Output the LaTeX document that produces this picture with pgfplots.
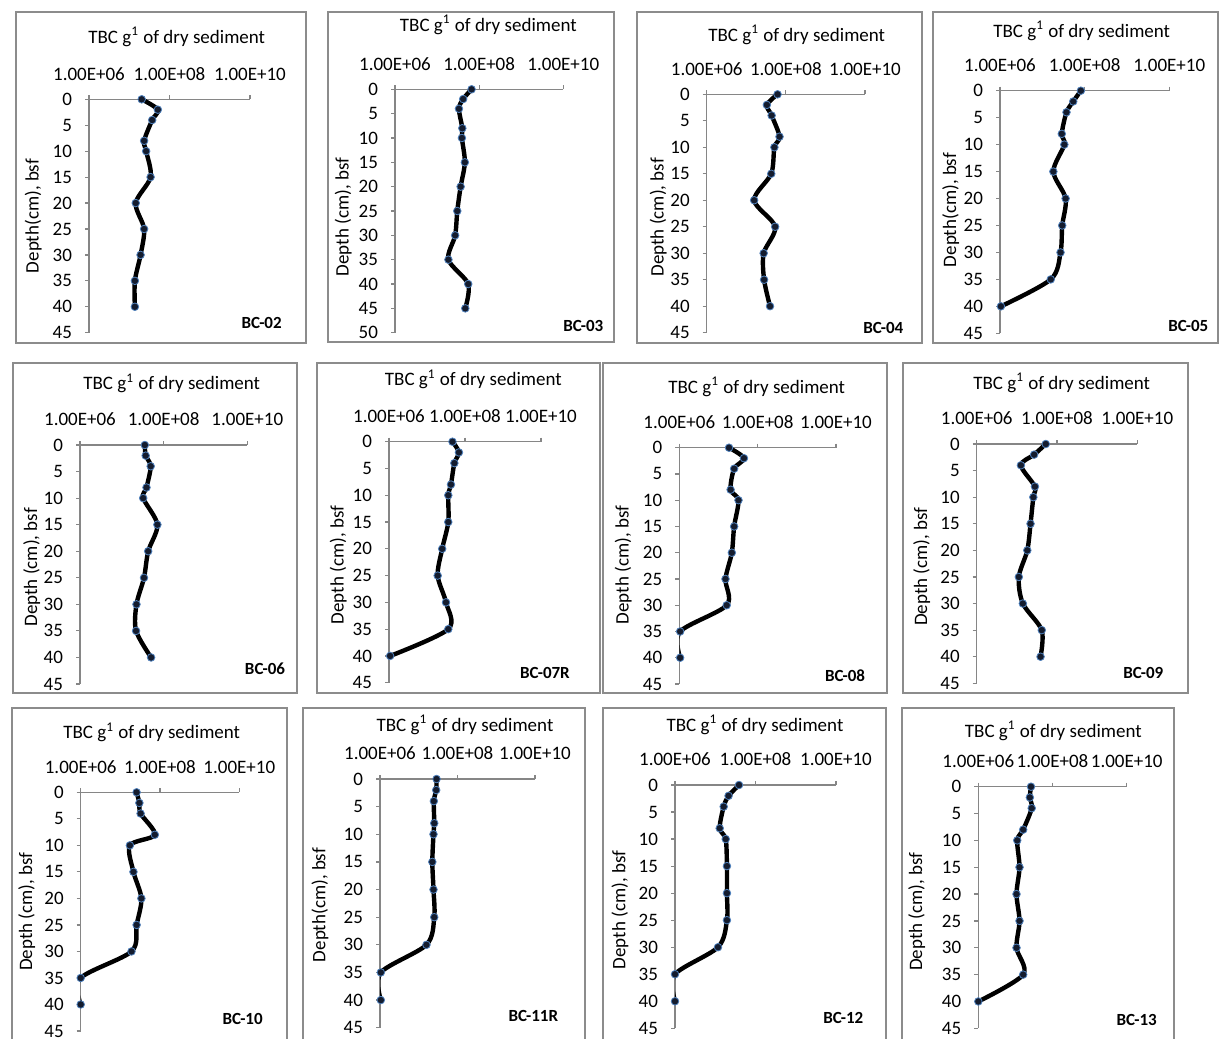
\documentclass[border=0pt]{standalone}
\usepackage{fontspec}
\setmainfont{Carlito}
\usepackage{pgfplots}
\pgfplotsset{compat=1.18}

\definecolor{framegray}{HTML}{8C8C8C}
\definecolor{axisgray}{HTML}{868686}
\definecolor{markfill}{HTML}{141C2E}
\definecolor{markedge}{HTML}{4F81BD}

\newcommand{\lab}{\fontsize{9.5}{11}\selectfont}

\pgfkeys{/pgf/number format/assume math mode=true}
\pgfplotsset{
  tbcline/.style={black, line width=2.2pt, smooth, tension=0.5,
    mark=*, mark size=1.9pt,
    mark options={fill=markfill, draw=markedge, line width=0.4pt}},
}

\begin{document}
\begin{tikzpicture}
\useasboundingbox (0,0) rectangle (609.5pt,-519pt);
\clip (0,0) rectangle (609.5pt,-519pt);

% frames
\begin{scope}[framegray, line width=0.6pt]
\draw (8pt,-6pt) rectangle (153pt,-171.5pt);
\draw (164pt,-6pt) rectangle (307pt,-171pt);
\draw (318.5pt,-6pt) rectangle (461pt,-171.5pt);
\draw (466.5pt,-6pt) rectangle (609pt,-171.5pt);
\draw (6.5pt,-181.5pt) rectangle (148.5pt,-346.5pt);
\draw (158.5pt,-181.5pt) rectangle (300pt,-346.5pt);
\draw (301.5pt,-181.5pt) rectangle (443.5pt,-346.5pt);
\draw (451.5pt,-181.5pt) rectangle (594pt,-346.5pt);
\draw (6pt,-354pt) rectangle (143.5pt,-525pt);
\draw (151.5pt,-354pt) rectangle (292.5pt,-525pt);
\draw (301.5pt,-354pt) rectangle (443pt,-525pt);
\draw (451pt,-354pt) rectangle (587pt,-525pt);
\end{scope}

% BC-02
\begin{axis}[xmode=log, xmin=1e6, xmax=1e10, xtick={1e6,1e8,1e10}, xticklabels={1.00E+06,1.00E+08,1.00E+10}, minor xtick={},
  y dir=reverse, ymin=0, ymax=45, ytick={0,5,...,45},
  axis x line=top, axis y line=left, axis line style={-, draw=axisgray, line width=0.6pt},
  tick style={draw=axisgray, line width=0.6pt}, tick align=outside, major tick length=2pt,
  ticklabel style={font=\lab}, xticklabel style={yshift=4pt}, yticklabel style={xshift=-3pt},
  clip mode=individual, scale only axis, anchor=north west,
  at={(44.5pt,-49.65pt)}, width=80.5pt, height=116.7pt]
\addplot[tbcline] coordinates {(2.04e7,0)(5.13e7,2)(3.72e7,4)(2.34e7,8)(2.63e7,10)(3.39e7,15)(1.45e7,20)(2.34e7,25)(1.91e7,30)(1.38e7,35)(1.38e7,40)};
\end{axis}

% BC-03
\begin{axis}[xmode=log, xmin=1e6, xmax=1e10, xtick={1e6,1e8,1e10}, xticklabels={1.00E+06,1.00E+08,1.00E+10}, minor xtick={},
  y dir=reverse, ymin=0, ymax=50, ytick={0,5,...,50},
  axis x line=top, axis y line=left, axis line style={-, draw=axisgray, line width=0.6pt},
  tick style={draw=axisgray, line width=0.6pt}, tick align=outside, major tick length=2pt,
  ticklabel style={font=\lab}, xticklabel style={yshift=4pt}, yticklabel style={xshift=-3pt},
  clip mode=individual, scale only axis, anchor=north west,
  at={(197.5pt,-44.65pt)}, width=84.15pt, height=121.7pt]
\addplot[tbcline] coordinates {(6.61e7,0)(4.17e7,2)(3.31e7,4)(3.98e7,8)(3.89e7,10)(4.57e7,15)(3.63e7,20)(3.02e7,25)(2.69e7,30)(1.86e7,35)(5.50e7,40)(4.68e7,45)};
\end{axis}

% BC-04
\begin{axis}[xmode=log, xmin=1e6, xmax=1e10, xtick={1e6,1e8,1e10}, xticklabels={1.00E+06,1.00E+08,1.00E+10}, minor xtick={},
  y dir=reverse, ymin=0, ymax=45, ytick={0,5,...,45},
  axis x line=top, axis y line=left, axis line style={-, draw=axisgray, line width=0.6pt},
  tick style={draw=axisgray, line width=0.6pt}, tick align=outside, major tick length=2pt,
  ticklabel style={font=\lab}, xticklabel style={yshift=4pt}, yticklabel style={xshift=-3pt},
  clip mode=individual, scale only axis, anchor=north west,
  at={(353.35pt,-47.15pt)}, width=79.15pt, height=119.2pt]
\addplot[tbcline] coordinates {(6.17e7,0)(3.31e7,2)(4.37e7,4)(6.92e7,8)(5.13e7,10)(4.27e7,15)(1.58e7,20)(5.37e7,25)(2.75e7,30)(2.82e7,35)(3.98e7,40)};
\end{axis}

% BC-05
\begin{axis}[xmode=log, xmin=1e6, xmax=1e10, xtick={1e6,1e8,1e10}, xticklabels={1.00E+06,1.00E+08,1.00E+10}, minor xtick={},
  y dir=reverse, ymin=0, ymax=45, ytick={0,5,...,45},
  axis x line=top, axis y line=left, axis line style={-, draw=axisgray, line width=0.6pt},
  tick style={draw=axisgray, line width=0.6pt}, tick align=outside, major tick length=2pt,
  ticklabel style={font=\lab}, xticklabel style={yshift=4pt}, yticklabel style={xshift=-3pt},
  clip mode=individual, scale only axis, anchor=north west,
  at={(500pt,-45.35pt)}, width=84.65pt, height=121.3pt]
\addplot[tbcline] coordinates {(8.13e7,0)(5.37e7,2)(3.72e7,4)(2.88e7,8)(3.31e7,10)(1.82e7,15)(3.55e7,20)(2.95e7,25)(2.69e7,30)(1.58e7,35)(1.05e6,40)};
\end{axis}

% BC-06
\begin{axis}[xmode=log, xmin=1e6, xmax=1e10, xtick={1e6,1e8,1e10}, xticklabels={1.00E+06,1.00E+08,1.00E+10}, minor xtick={},
  y dir=reverse, ymin=0, ymax=45, ytick={0,5,...,45},
  axis x line=top, axis y line=left, axis line style={-, draw=axisgray, line width=0.6pt},
  tick style={draw=axisgray, line width=0.6pt}, tick align=outside, major tick length=2pt,
  ticklabel style={font=\lab}, xticklabel style={yshift=4pt}, yticklabel style={xshift=-3pt},
  clip mode=individual, scale only axis, anchor=north west,
  at={(40pt,-222.5pt)}, width=83.65pt, height=119.5pt]
\addplot[tbcline] coordinates {(3.55e7,0)(3.72e7,2)(4.90e7,4)(3.89e7,8)(3.24e7,10)(7.08e7,15)(4.27e7,20)(3.39e7,25)(2.24e7,30)(2.19e7,35)(5.01e7,40)};
\end{axis}

% BC-07R
\begin{axis}[xmode=log, xmin=1e6, xmax=1e10, xtick={1e6,1e8,1e10}, xticklabels={1.00E+06,1.00E+08,1.00E+10}, minor xtick={},
  y dir=reverse, ymin=0, ymax=45, ytick={0,5,...,45},
  axis x line=top, axis y line=left, axis line style={-, draw=axisgray, line width=0.6pt},
  tick style={draw=axisgray, line width=0.6pt}, tick align=outside, major tick length=2pt,
  ticklabel style={font=\lab}, xticklabel style={yshift=4pt}, yticklabel style={xshift=-3pt},
  clip mode=individual, scale only axis, anchor=north west,
  at={(194.5pt,-220.85pt)}, width=76pt, height=120.5pt]
\addplot[tbcline] coordinates {(4.68e7,0)(6.92e7,2)(5.25e7,4)(4.27e7,8)(3.63e7,10)(3.63e7,15)(2.51e7,20)(1.91e7,25)(3.16e7,30)(3.63e7,35)(1.07e6,40)};
\end{axis}

% BC-08
\begin{axis}[xmode=log, xmin=1e6, xmax=1e10, xtick={1e6,1e8,1e10}, xticklabels={1.00E+06,1.00E+08,1.00E+10}, minor xtick={},
  y dir=reverse, ymin=0, ymax=45, ytick={0,5,...,45},
  axis x line=top, axis y line=left, axis line style={-, draw=axisgray, line width=0.6pt},
  tick style={draw=axisgray, line width=0.6pt}, tick align=outside, major tick length=2pt,
  ticklabel style={font=\lab}, xticklabel style={yshift=4pt}, yticklabel style={xshift=-3pt},
  clip mode=individual, scale only axis, anchor=north west,
  at={(339.65pt,-223.85pt)}, width=78.35pt, height=118.15pt]
\addplot[tbcline] coordinates {(1.86e7,0)(4.47e7,2)(2.51e7,4)(2.04e7,8)(3.24e7,10)(2.51e7,15)(2.19e7,20)(1.51e7,25)(1.62e7,30)(1.05e6,35)(1.05e6,40)};
\end{axis}

% BC-09
\begin{axis}[xmode=log, xmin=1e6, xmax=1e10, xtick={1e6,1e8,1e10}, xticklabels={1.00E+06,1.00E+08,1.00E+10}, minor xtick={},
  y dir=reverse, ymin=0, ymax=45, ytick={0,5,...,45},
  axis x line=top, axis y line=left, axis line style={-, draw=axisgray, line width=0.6pt},
  tick style={draw=axisgray, line width=0.6pt}, tick align=outside, major tick length=2pt,
  ticklabel style={font=\lab}, xticklabel style={yshift=4pt}, yticklabel style={xshift=-3pt},
  clip mode=individual, scale only axis, anchor=north west,
  at={(488.35pt,-222pt)}, width=80.3pt, height=119.65pt]
\addplot[tbcline] coordinates {(5.25e7,0)(2.69e7,2)(1.26e7,4)(2.82e7,8)(2.57e7,10)(2.19e7,15)(1.82e7,20)(1.12e7,25)(1.41e7,30)(4.17e7,35)(3.89e7,40)};
\end{axis}

% BC-10
\begin{axis}[xmode=log, xmin=1e6, xmax=1e10, xtick={1e6,1e8,1e10}, xticklabels={1.00E+06,1.00E+08,1.00E+10}, minor xtick={},
  y dir=reverse, ymin=0, ymax=45, ytick={0,5,...,45},
  axis x line=top, axis y line=left, axis line style={-, draw=axisgray, line width=0.6pt},
  tick style={draw=axisgray, line width=0.6pt}, tick align=outside, major tick length=2pt,
  ticklabel style={font=\lab}, xticklabel style={yshift=4pt}, yticklabel style={xshift=-3pt},
  clip mode=individual, scale only axis, anchor=north west,
  at={(40.35pt,-396.15pt)}, width=79.3pt, height=119.35pt]
\addplot[tbcline] coordinates {(2.57e7,0)(3.02e7,2)(3.24e7,4)(7.41e7,8)(1.74e7,10)(2.14e7,15)(3.39e7,20)(2.57e7,25)(1.91e7,30)(1.0e6,35)(1.0e6,40)};
\end{axis}

% BC-11R
\begin{axis}[xmode=log, xmin=1e6, xmax=1e10, xtick={1e6,1e8,1e10}, xticklabels={1.00E+06,1.00E+08,1.00E+10}, minor xtick={},
  y dir=reverse, ymin=0, ymax=45, ytick={0,5,...,45},
  axis x line=top, axis y line=left, axis line style={-, draw=axisgray, line width=0.6pt},
  tick style={draw=axisgray, line width=0.6pt}, tick align=outside, major tick length=2pt,
  ticklabel style={font=\lab}, xticklabel style={yshift=4pt}, yticklabel style={xshift=-3pt},
  clip mode=individual, scale only axis, anchor=north west,
  at={(190pt,-389.5pt)}, width=77.5pt, height=124.35pt]
\addplot[tbcline] coordinates {(2.88e7,0)(2.82e7,2)(2.45e7,4)(2.51e7,8)(2.40e7,10)(2.24e7,15)(2.40e7,20)(2.51e7,25)(1.58e7,30)(1.05e6,35)(1.05e6,40)};
\end{axis}

% BC-12
\begin{axis}[xmode=log, xmin=1e6, xmax=1e10, xtick={1e6,1e8,1e10}, xticklabels={1.00E+06,1.00E+08,1.00E+10}, minor xtick={},
  y dir=reverse, ymin=0, ymax=45, ytick={0,5,...,45},
  axis x line=top, axis y line=left, axis line style={-, draw=axisgray, line width=0.6pt},
  tick style={draw=axisgray, line width=0.6pt}, tick align=outside, major tick length=2pt,
  ticklabel style={font=\lab}, xticklabel style={yshift=4pt}, yticklabel style={xshift=-3pt},
  clip mode=individual, scale only axis, anchor=north west,
  at={(337.5pt,-392.5pt)}, width=80.5pt, height=121.65pt]
\addplot[tbcline] coordinates {(3.89e7,0)(2.14e7,2)(1.62e7,4)(1.29e7,8)(1.82e7,10)(1.95e7,15)(1.95e7,20)(1.95e7,25)(1.17e7,30)(1.0e6,35)(1.0e6,40)};
\end{axis}

% BC-13
\begin{axis}[xmode=log, xmin=1e6, xmax=1e10, xtick={1e6,1e8,1e10}, xticklabels={1.00E+06,1.00E+08,1.00E+10}, minor xtick={},
  y dir=reverse, ymin=0, ymax=45, ytick={0,5,...,45},
  axis x line=top, axis y line=left, axis line style={-, draw=axisgray, line width=0.6pt},
  tick style={draw=axisgray, line width=0.6pt}, tick align=outside, major tick length=2pt,
  ticklabel style={font=\lab}, xticklabel style={yshift=4pt}, yticklabel style={xshift=-3pt},
  clip mode=individual, scale only axis, anchor=north west,
  at={(489.15pt,-393.35pt)}, width=74.2pt, height=120.8pt]
\addplot[tbcline] coordinates {(2.63e7,0)(2.45e7,2)(2.75e7,4)(1.62e7,8)(1.12e7,10)(1.29e7,15)(1.07e7,20)(1.29e7,25)(1.07e7,30)(1.62e7,35)(1.0e6,40)};
\end{axis}

% titles
\begin{scope}[every node/.style={font=\lab}]
\node at (88.35pt,-18.35pt) {TBC g\textsuperscript{1} of dry sediment};
\node at (244.15pt,-12.5pt) {TBC g\textsuperscript{1} of dry sediment};
\node at (398.35pt,-17.5pt) {TBC g\textsuperscript{1} of dry sediment};
\node at (540.85pt,-15.35pt) {TBC g\textsuperscript{1} of dry sediment};
\node at (85.85pt,-191.65pt) {TBC g\textsuperscript{1} of dry sediment};
\node at (236.65pt,-189.65pt) {TBC g\textsuperscript{1} of dry sediment};
\node at (378.35pt,-193.35pt) {TBC g\textsuperscript{1} of dry sediment};
\node at (530.85pt,-191.35pt) {TBC g\textsuperscript{1} of dry sediment};
\node at (75.85pt,-366.15pt) {TBC g\textsuperscript{1} of dry sediment};
\node at (232.5pt,-362.5pt) {TBC g\textsuperscript{1} of dry sediment};
\node at (377.5pt,-362.5pt) {TBC g\textsuperscript{1} of dry sediment};
\node at (526.65pt,-365.5pt) {TBC g\textsuperscript{1} of dry sediment};
\end{scope}

% depth labels
\begin{scope}[every node/.style={font=\lab, rotate=90}]
\node at (16.65pt,-108pt) {Depth(cm), bsf};
\node at (171.65pt,-108.5pt) {Depth (cm), bsf};
\node at (329.15pt,-108.65pt) {Depth (cm), bsf};
\node at (475.35pt,-105pt) {Depth(cm), bsf};
\node at (15.85pt,-283.65pt) {Depth (cm), bsf};
\node at (169.15pt,-282.5pt) {Depth (cm), bsf};
\node at (311.65pt,-282.5pt) {Depth (cm), bsf};
\node at (460.85pt,-283.35pt) {Depth (cm), bsf};
\node at (13.35pt,-455.85pt) {Depth (cm), bsf};
\node at (160pt,-452.5pt) {Depth(cm), bsf};
\node at (310pt,-455pt) {Depth (cm), bsf};
\node at (458.35pt,-455.85pt) {Depth (cm), bsf};
\end{scope}

% core names
\begin{scope}[every node/.style={font=\fontsize{8.5}{10}\selectfont\bfseries}]
\node at (130.85pt,-161.65pt) {BC-02};
\node at (291.65pt,-163pt) {BC-03};
\node at (441.65pt,-164.15pt) {BC-04};
\node at (594.15pt,-163pt) {BC-05};
\node at (132.5pt,-334.15pt) {BC-06};
\node at (272.5pt,-336.35pt) {BC-07R};
\node at (422.5pt,-338pt) {BC-08};
\node at (571.65pt,-336.35pt) {BC-09};
\node at (121.35pt,-509.5pt) {BC-10};
\node at (266.65pt,-507.85pt) {BC-11R};
\node at (421.65pt,-509.15pt) {BC-12};
\node at (568.35pt,-510pt) {BC-13};
\end{scope}
\end{tikzpicture}
\end{document}
